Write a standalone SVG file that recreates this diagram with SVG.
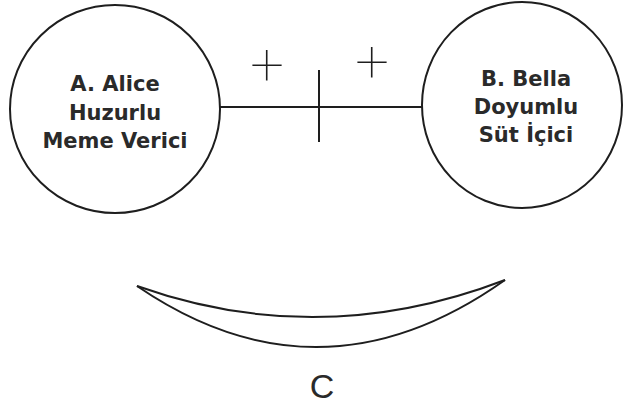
<svg xmlns="http://www.w3.org/2000/svg" width="624" height="405" viewBox="0 0 624 405">
  <style>
    .node { fill: #ffffff; stroke: #1e1e1e; stroke-width: 2; }
    .lbl { font-family: "DejaVu Sans", "Liberation Sans", sans-serif; font-weight: bold; font-size: 21px; fill: #2a2a2a; text-anchor: middle; }
    .conn { stroke: #1e1e1e; stroke-width: 2; fill: none; }
    .sign { font-family: Roboto, "Liberation Sans", sans-serif; font-weight: 100; font-size: 60px; fill: #1e1e1e; text-anchor: middle; }
    .cap { font-family: "Liberation Sans", Arial, sans-serif; font-size: 34px; fill: #2a2a2a; text-anchor: middle; }
  </style>
  <rect width="624" height="405" fill="#ffffff"/>
  <g id="connectors">
    <line class="conn" x1="220" y1="107" x2="422" y2="107"/>
    <line class="conn" x1="319" y1="70" x2="319" y2="142"/>
    <text class="sign" x="267" y="85">+</text>
    <text class="sign" x="372" y="82" fill="#555">+</text>
  </g>
  <g id="nodeA">
    <ellipse class="node" cx="115" cy="109" rx="105" ry="104"/>
    <text class="lbl" x="115" y="91">A. Alice</text>
    <text class="lbl" x="115" y="120">Huzurlu</text>
    <text class="lbl" x="115" y="148">Meme Verici</text>
  </g>
  <g id="nodeB">
    <ellipse class="node" cx="522" cy="105" rx="100" ry="103"/>
    <text class="lbl" x="526" y="86">B. Bella</text>
    <text class="lbl" x="526" y="114">Doyumlu</text>
    <text class="lbl" x="526" y="142">Süt İçici</text>
  </g>
  <g id="nodeC">
    <path class="conn" d="M137 286 Q320 351 505 280"/>
    <path class="conn" d="M137 286 Q320 411 505 280"/>
    <text class="cap" x="322" y="398">C</text>
  </g>
</svg>
